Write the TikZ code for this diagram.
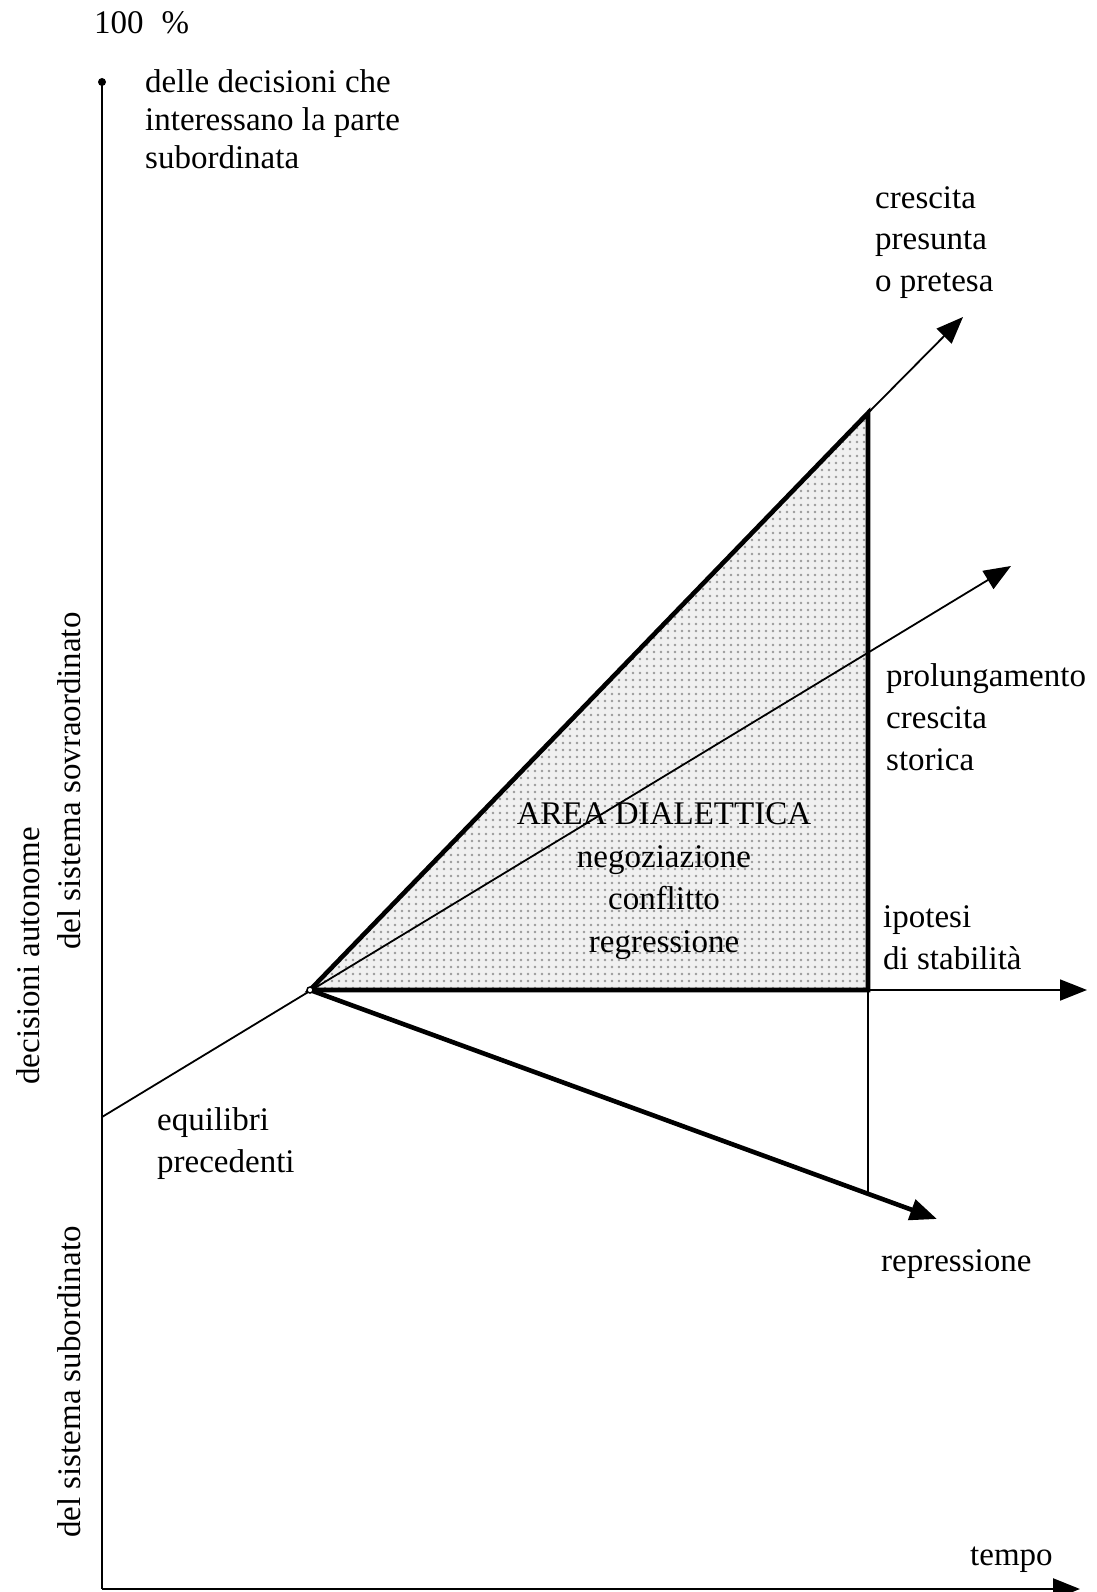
\documentclass[tikz,border=0pt]{standalone}
\usepackage{fontspec}
\setmainfont{Liberation Serif}
\usetikzlibrary{arrows.meta,patterns.meta}
\begin{document}
\begin{tikzpicture}[x=1pt,y=-1pt,
  lbl/.style={inner sep=0pt,font=\fontsize{33}{42}\selectfont,align=left,anchor=base west},
  lblc/.style={inner sep=0pt,font=\fontsize{33}{42.5}\selectfont,align=center,anchor=base},
  vlbl/.style={inner sep=0pt,font=\fontsize{33}{42}\selectfont,rotate=90,anchor=center},
  axis/.style={line width=2.6pt},
  thickln/.style={line width=4.6pt},
  thinln/.style={line width=1.8pt},
  tip/.style={-{Triangle[length=27pt,width=21pt]}}]
\useasboundingbox (0,0) rectangle (1097,1592);
% key points
\coordinate (ytop) at (102,82);
\coordinate (orig) at (102,1589);
\coordinate (xtip) at (1080,1589);
\coordinate (O) at (310,990);
\coordinate (T) at (868,413);
\coordinate (B) at (868,990);
\coordinate (E) at (102,1117);
\coordinate (cTip) at (963,317);
\coordinate (pTip) at (1011,566);
\coordinate (sTip) at (1087,990);
\coordinate (rTip) at (937,1219);
\coordinate (rFoot) at (868,1194);
% shaded area
\fill[gray!12] (O) -- (T) -- (B) -- cycle;
\fill[pattern={Dots[distance=6.5pt,radius=1.5pt]},pattern color=gray!80] (O) -- (T) -- (B) -- cycle;
% axes
\draw[axis] (ytop) -- (orig);
\draw[axis,tip] (orig) -- (xtip);
\fill (ytop) circle (4pt);
% lines
\draw[thinln,tip] (E) -- (pTip);
\draw[thinln,tip] (T) -- (cTip);
\draw[thinln,tip] (B) -- (sTip);
\draw[thinln] (B) -- (rFoot);
\draw[thickln,tip] (O) -- (rTip);
\draw[thickln,line join=miter] (O) -- (T) -- (B) -- cycle;
\draw[line width=1.5pt,fill=white] (O) circle (3pt);
% labels (anchor = baseline of the last line)
\node[lbl] (cento) at (94,34) {100\hspace{18pt}\%};
\node[lbl,font=\fontsize{33}{38}\selectfont] (delle) at (145,168) {delle decisioni che\\interessano la parte\\subordinata};
\node[lbl,font=\fontsize{33}{41.5}\selectfont] (cresc) at (875,291) {crescita\\presunta\\o pretesa};
\node[lbl] (prol) at (886,770) {prolungamento\\crescita\\storica};
\node[lblc] (area) at (664,952) {AREA DIALETTICA\\negoziazione\\conflitto\\regressione};
\node[lbl] (ipot) at (883,969) {ipotesi\\di stabilità};
\node[lbl] (equi) at (157,1172) {equilibri\\precedenti};
\node[lbl] (repr) at (881,1271) {repressione};
\node[lbl] (tempo) at (970,1565) {tempo};
\node[vlbl] (dec) at (28,956) {decisioni autonome};
\node[vlbl] (sovra) at (69,781) {del sistema sovraordinato};
\node[vlbl] (subo) at (69,1382) {del sistema subordinato};
\end{tikzpicture}
\end{document}
